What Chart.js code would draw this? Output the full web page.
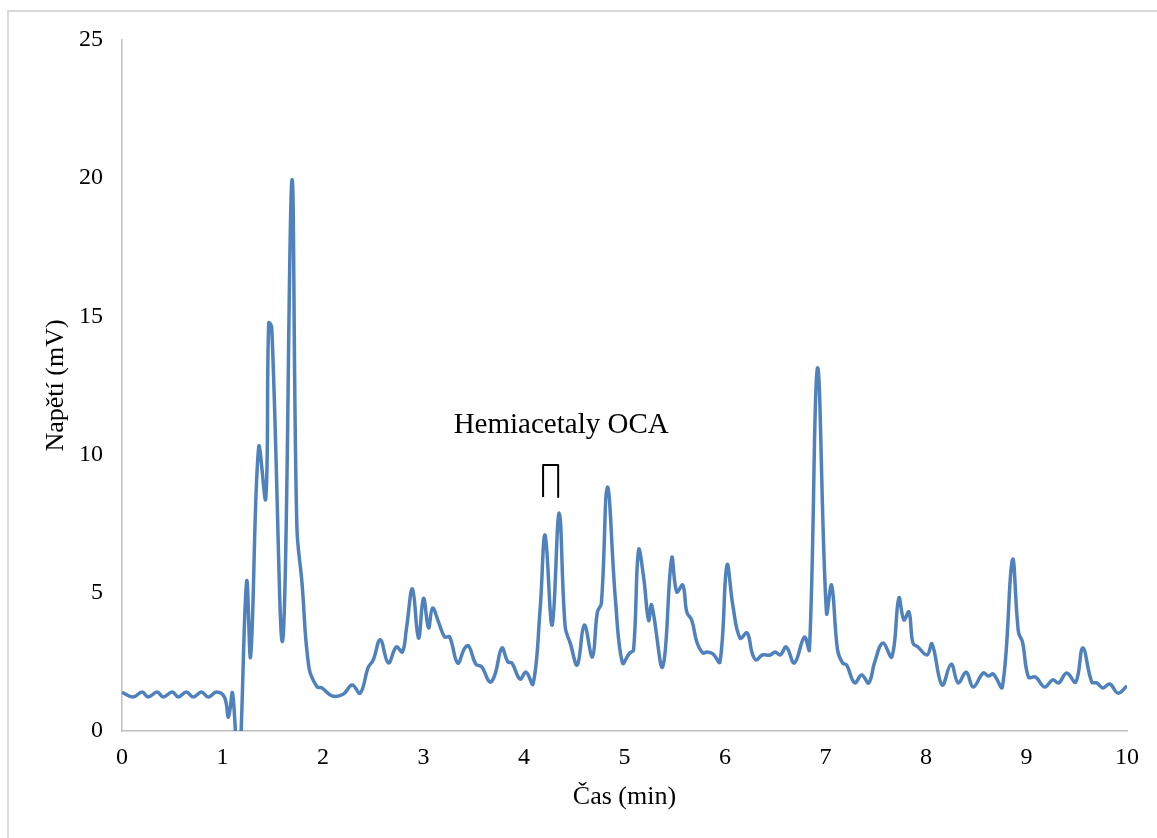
<!DOCTYPE html>
<html>
<head>
<meta charset="utf-8">
<script src="https://cdn.jsdelivr.net/npm/chart.js@4.4.0/dist/chart.umd.min.js"></script>
<style>
  body { margin: 0; background: #fff; }
  #wrap { position: relative; width: 1157px; height: 838px; overflow: hidden; }
  #frame { position: absolute; left: 7px; top: 10px; right: -5px; bottom: -5px;
           border-left: 2px solid #d9d9d9; border-top: 2px solid #d9d9d9; }
  canvas { position: absolute; left: 0; top: 0; }
</style>
</head>
<body>
<div id="wrap">
  <div id="frame"></div>
  <canvas id="chromChart" width="1157" height="838"></canvas>
</div>
<script>
// retention time (min) and detector voltage (mV)
const times = [
  0.00, 0.11, 0.20, 0.26, 0.35, 0.41, 0.50, 0.56, 0.64, 0.71, 0.79, 0.86, 0.94,
  1.02, 1.06, 1.10, 1.16, 1.24, 1.28, 1.36, 1.43, 1.46, 1.49, 1.60, 1.69, 1.74,
  1.79, 1.86, 1.94, 1.99, 2.09, 2.20, 2.29, 2.37, 2.45, 2.50, 2.57, 2.65, 2.73,
  2.79, 2.83, 2.89, 2.95, 3.00, 3.05, 3.09, 3.15, 3.21, 3.26, 3.34, 3.41, 3.45,
  3.52, 3.58, 3.66, 3.71, 3.78, 3.84, 3.88, 3.96, 4.02, 4.09, 4.16, 4.21, 4.28,
  4.35, 4.41, 4.46, 4.53, 4.60, 4.68, 4.73, 4.77, 4.83, 4.91, 4.98, 5.05, 5.09,
  5.14, 5.19, 5.24, 5.27, 5.38, 5.47, 5.52, 5.58, 5.62, 5.67, 5.72, 5.78, 5.82,
  5.88, 5.95, 6.02, 6.08, 6.15, 6.22, 6.27, 6.31, 6.37, 6.45, 6.50, 6.55, 6.61,
  6.69, 6.79, 6.84, 6.92, 7.01, 7.06, 7.12, 7.17, 7.21, 7.29, 7.36, 7.43, 7.49,
  7.57, 7.66, 7.73, 7.78, 7.83, 7.87, 7.92, 8.01, 8.06, 8.16, 8.25, 8.32, 8.40,
  8.47, 8.57, 8.62, 8.67, 8.76, 8.86, 8.92, 8.96, 9.02, 9.09, 9.18, 9.26, 9.32,
  9.40, 9.49, 9.56, 9.65, 9.70, 9.76, 9.83, 9.91, 10.00
];
const voltages = [
  1.40, 1.23, 1.41, 1.23, 1.41, 1.23, 1.41, 1.23, 1.41, 1.23, 1.41, 1.23, 1.41,
  1.22, 0.50, 1.37, -1.60, 5.40, 2.70, 10.27, 8.40, 14.76, 14.60, 3.30, 19.90, 7.40,
  5.40, 2.30, 1.60, 1.56, 1.27, 1.33, 1.66, 1.37, 2.30, 2.57, 3.30, 2.46, 3.04,
  2.86, 3.70, 5.14, 3.36, 4.80, 3.73, 4.45, 3.94, 3.40, 3.40, 2.46, 3.00, 3.08,
  2.42, 2.32, 1.77, 2.03, 3.00, 2.50, 2.46, 1.88, 2.13, 1.70, 4.38, 7.09, 3.83,
  7.89, 3.76, 3.18, 2.39, 3.83, 2.68, 4.30, 4.63, 8.83, 4.74, 2.46, 2.82, 2.93,
  6.55, 5.57, 4.00, 4.56, 2.32, 6.26, 5.03, 5.28, 4.30, 4.00, 3.22, 2.82, 2.86,
  2.79, 2.50, 6.00, 4.49, 3.36, 3.55, 2.82, 2.57, 2.75, 2.75, 2.86, 2.75, 3.04,
  2.46, 3.40, 2.93, 13.13, 4.27, 5.28, 2.93, 2.46, 2.39, 1.74, 2.03, 1.74, 2.50,
  3.18, 2.68, 4.81, 4.02, 4.31, 3.18, 3.04, 2.75, 3.15, 1.66, 2.42, 1.74, 2.13,
  1.59, 2.10, 1.99, 2.06, 1.59, 6.19, 3.58, 3.22, 1.95, 1.95, 1.59, 1.85, 1.74,
  2.10, 1.77, 3.00, 1.77, 1.74, 1.56, 1.70, 1.37, 1.63
];

// bracket marking the hemiacetal peaks
const bracketX = [4.19, 4.19, 4.34, 4.34];
const bracketY = [8.47, 9.62, 9.62, 8.47];
const labelText = "Hemiacetaly OCA";
const labelPos = { x: 4.37, y: 11.07 };

const serif = "'Liberation Serif', 'Times New Roman', serif";

// draws the annotation text above the bracket
const labelPlugin = {
  id: "peakLabel",
  afterDatasetsDraw(chart) {
    const ctx = chart.ctx;
    const px = chart.scales.x.getPixelForValue(labelPos.x);
    const py = chart.scales.y.getPixelForValue(labelPos.y);
    ctx.save();
    ctx.font = "29px " + serif;
    ctx.fillStyle = "#000";
    ctx.textAlign = "center";
    ctx.textBaseline = "middle";
    ctx.fillText(labelText, px, py);
    ctx.restore();
  },
};

const canvas = document.getElementById("chromChart");
new Chart(canvas, {
  type: "line",
  data: {
    datasets: [
      {
        label: "Napětí",
        data: times.map((t, i) => ({ x: t, y: voltages[i] })),
        borderColor: "#4f81bd",
        borderWidth: 3.5,
        pointRadius: 0,
        tension: 0.4,
        fill: false,
      },
      {
        label: "bracket",
        data: bracketX.map((t, i) => ({ x: t, y: bracketY[i] })),
        borderColor: "#000",
        borderWidth: 2,
        borderJoinStyle: "round",
        pointRadius: 0,
        tension: 0,
        fill: false,
      },
    ],
  },
  options: {
    responsive: false,
    animation: false,
    layout: { padding: { top: 40, right: 30, left: 0, bottom: 0 } },
    plugins: {
      legend: { display: false },
      tooltip: { enabled: false },
    },
    scales: {
      x: {
        type: "linear",
        min: 0,
        max: 10,
        afterFit: (scale) => { scale.height = 107; },
        grid: { display: false, drawTicks: false },
        border: { display: true, color: "#bfbfbf", width: 1.5 },
        ticks: {
          stepSize: 1,
          padding: 12,
          color: "#000",
          font: { family: serif, size: 24 },
        },
        title: {
          display: true,
          text: "Čas (min)",
          color: "#000",
          font: { family: serif, size: 26 },
          padding: { top: 0, bottom: 25 },
        },
      },
      y: {
        min: 0,
        max: 25,
        afterFit: (scale) => { scale.width = 122; },
        grid: { display: false, drawTicks: false },
        border: { display: true, color: "#bfbfbf", width: 1.5 },
        ticks: {
          stepSize: 5,
          padding: 19,
          color: "#000",
          font: { family: serif, size: 24 },
        },
        title: {
          display: true,
          text: "Napětí (mV)",
          color: "#000",
          font: { family: serif, size: 26 },
          padding: { top: 41, bottom: 0 },
        },
      },
    },
  },
  plugins: [labelPlugin],
});
</script>
</body>
</html>
